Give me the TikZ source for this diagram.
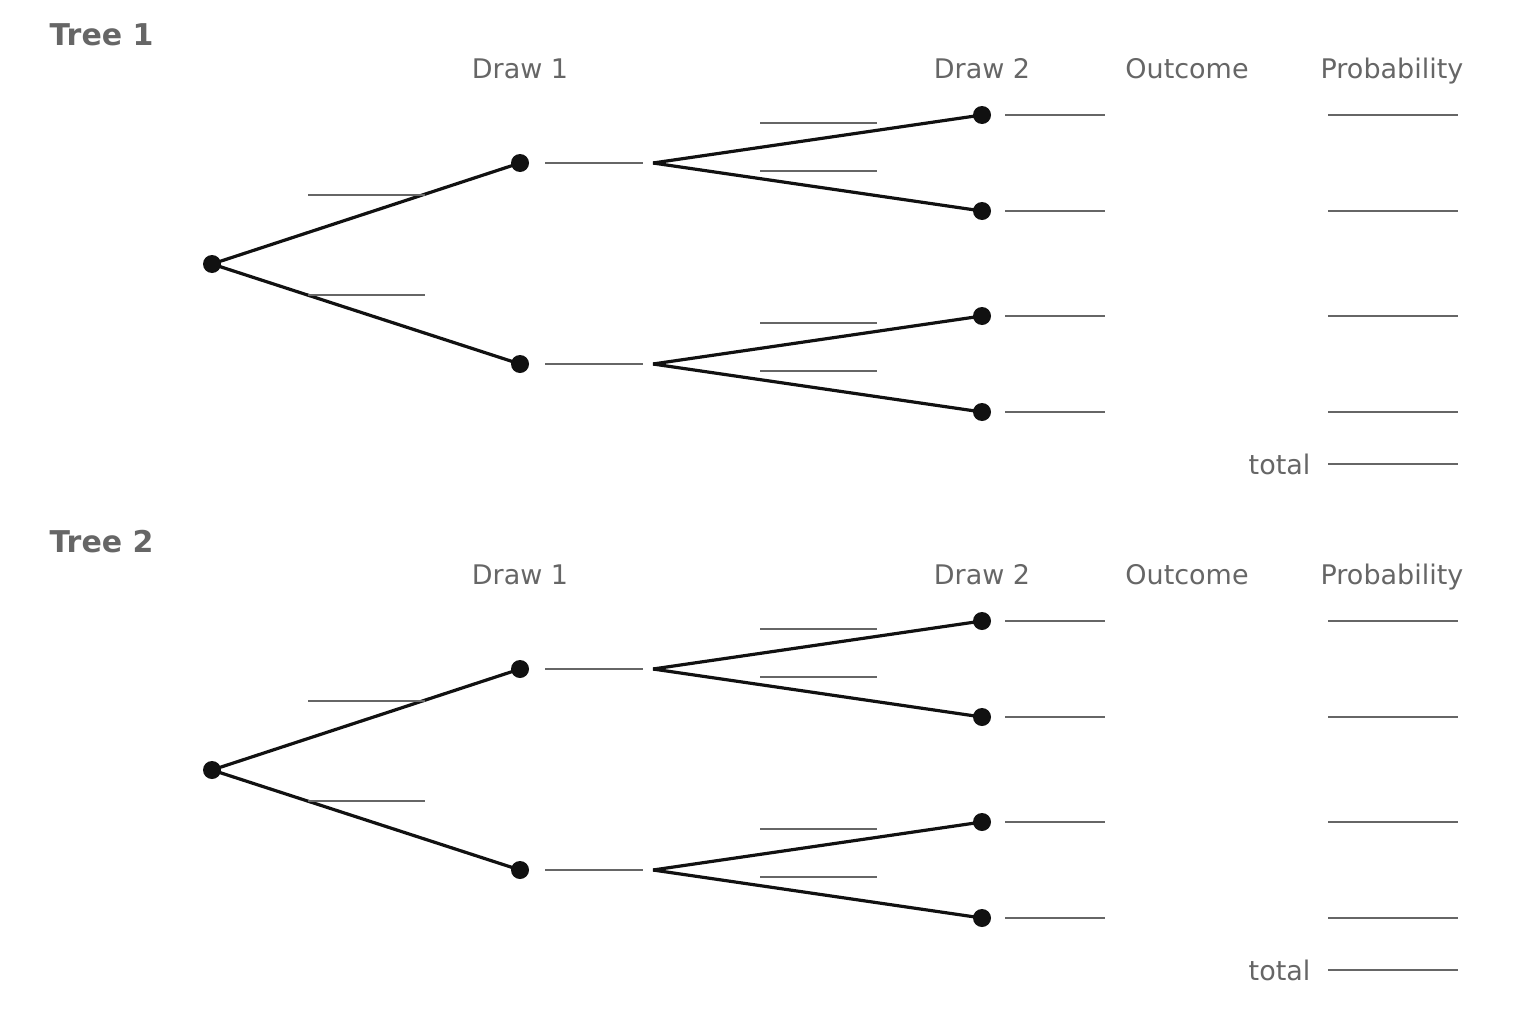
\documentclass[tikz,border=0pt]{standalone}
\usepackage{fontspec}
\setmainfont{DejaVu Sans}
\definecolor{tg}{HTML}{666666}
\definecolor{tb}{HTML}{111111}
\begin{document}
\begin{tikzpicture}[x=1pt,y=-1pt,
  dot/.style={circle,fill=tb,inner sep=0pt,minimum size=18pt},
  br/.style={draw=tb,line width=3.2pt},
  blank/.style={draw=tg,line width=2.4pt},
  hdr/.style={text=tg,font=\fontsize{27}{30}\selectfont,anchor=base},
  ttl/.style={text=tg,font=\fontsize{30}{34}\selectfont\bfseries,anchor=base west}]
\useasboundingbox (0,0) rectangle (1528,1025);
\newcommand\mytree[2]{%
  \begin{scope}[yshift=-#1pt]
  \node[ttl] (#2t) at (46,46) {Tree #2};
  \node[hdr] (#2h1) at (520,78) {Draw 1};
  \node[hdr] (#2h2) at (982,78) {Draw 2};
  \node[hdr] (#2h3) at (1187,78) {Outcome};
  \node[hdr] (#2h4) at (1392,78) {Probability};
  \node[dot] (#2r) at (212,264) {};
  \node[dot] (#2a) at (520,163) {};
  \node[dot] (#2b) at (520,364) {};
  \coordinate (#2ja) at (653,163);
  \coordinate (#2jb) at (653,364);
  \node[dot] (#2c1) at (982,115) {};
  \node[dot] (#2c2) at (982,211) {};
  \node[dot] (#2c3) at (982,316) {};
  \node[dot] (#2c4) at (982,412) {};
  \draw[br] (#2r.center) -- (#2a.center);
  \draw[br] (#2r.center) -- (#2b.center);
  \draw[br] (#2ja) -- (#2c1.center);
  \draw[br] (#2ja) -- (#2c2.center);
  \draw[br] (#2jb) -- (#2c3.center);
  \draw[br] (#2jb) -- (#2c4.center);
  \draw[blank] (308,195) -- (425,195);
  \draw[blank] (308,295) -- (425,295);
  \draw[blank] (545,163) -- (643,163);
  \draw[blank] (545,364) -- (643,364);
  \draw[blank] (760,123) -- (877,123);
  \draw[blank] (760,171) -- (877,171);
  \draw[blank] (760,323) -- (877,323);
  \draw[blank] (760,371) -- (877,371);
  \foreach \yy in {115,211,316,412}{
    \draw[blank] (1005,\yy) -- (1105,\yy);
    \draw[blank] (1328,\yy) -- (1458,\yy);}
  \draw[blank] (1328,464) -- (1458,464);
  \node[hdr,anchor=base east] (#2tot) at (1314,474) {total};
  \end{scope}}
\mytree{0}{1}
\mytree{506}{2}
\end{tikzpicture}
\end{document}
